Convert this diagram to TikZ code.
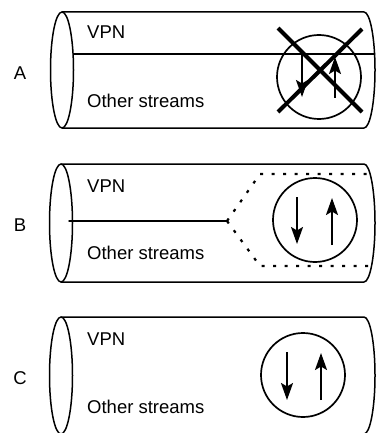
\documentclass[tikz,border=0pt]{standalone}
\usepackage{fontspec}
\setmainfont{Liberation Sans}
\usetikzlibrary{arrows.meta}
\begin{document}
\begin{tikzpicture}[x=1pt,y=-1pt,
  outline/.style={line width=1.5pt, line cap=round, line join=round},
  ring/.style={line width=1.7pt},
  flow/.style={line width=2pt, -{Stealth[length=17pt,width=12pt,inset=3.5pt]}},
  lbl/.style={font=\fontsize{18.5}{20}\selectfont, anchor=base west, inner sep=0pt},
  tag/.style={font=\fontsize{18.5}{20}\selectfont, inner sep=0pt},
  xmark/.style={line width=4pt},
  dotline/.style={line width=2.2pt, dash pattern=on 3pt off 8.5pt}]
\useasboundingbox (0,0) rectangle (377,433);
% ---------- A ----------
\draw[outline] (62,12) -- (364,12) arc[start angle=-90,end angle=90,x radius=11,y radius=58] -- (62,128);
\draw[outline] (62,70) ellipse[x radius=11.5,y radius=58];
\draw[outline] (73.5,54) -- (374.6,54);
\node[lbl] (vpnA) at (87,39) {VPN};
\node[lbl] (osA) at (87,107) {Other streams};
\node[tag] (tagA) at (20,73) {A};
\node[ring, draw, circle, minimum size=84pt, inner sep=0pt] (cA) at (319,77) {};
\coordinate (dA1) at (302,54); \coordinate (dA2) at (302,97);
\coordinate (uA1) at (335,98); \coordinate (uA2) at (335,57);
\draw[flow] (dA1) -- (dA2);
\draw[flow] (uA1) -- (uA2);
\coordinate (xA1) at (278,28); \coordinate (xA2) at (362,112);
\coordinate (xA3) at (278,112); \coordinate (xA4) at (362,29);
\draw[xmark] (xA1) -- (xA2);
\draw[xmark] (xA3) -- (xA4);
% ---------- B ----------
\draw[outline] (61,164) -- (364,164) arc[start angle=-90,end angle=90,x radius=11,y radius=59] -- (61,282);
\draw[outline] (61,223) ellipse[x radius=11.5,y radius=59];
\coordinate (mB1) at (69,221); \coordinate (mB2) at (227,221);
\draw[outline] (mB1) -- (mB2);
\coordinate (tB) at (260,174); \coordinate (bB) at (260,266);
\coordinate (tBe) at (372,174); \coordinate (bBe) at (372,266);
\draw[dotline] (mB2) -- (tB) -- (tBe);
\draw[dotline] (mB2) -- (bB) -- (bBe);
\node[lbl] (vpnB) at (87,192) {VPN};
\node[lbl] (osB) at (87,259) {Other streams};
\node[tag] (tagB) at (20,225) {B};
\node[ring, draw, circle, minimum size=84pt, inner sep=0pt] (cB) at (315,220) {};
\coordinate (dB1) at (297,197); \coordinate (dB2) at (297,244);
\coordinate (uB1) at (332,245); \coordinate (uB2) at (332,198);
\draw[flow] (dB1) -- (dB2);
\draw[flow] (uB1) -- (uB2);
% ---------- C ----------
\draw[outline] (61,317) -- (364,317) arc[start angle=-90,end angle=90,x radius=11,y radius=58.5] -- (61,434);
\draw[outline] (61,375.5) ellipse[x radius=11.5,y radius=58.5];
\node[lbl] (vpnC) at (87,345) {VPN};
\node[lbl] (osC) at (87,413) {Other streams};
\node[tag] (tagC) at (20,378) {C};
\node[ring, draw, circle, minimum size=84pt, inner sep=0pt] (cC) at (303,375) {};
\coordinate (dC1) at (287,352); \coordinate (dC2) at (287,400);
\coordinate (uC1) at (321,400); \coordinate (uC2) at (321,353);
\draw[flow] (dC1) -- (dC2);
\draw[flow] (uC1) -- (uC2);
\end{tikzpicture}
\end{document}
